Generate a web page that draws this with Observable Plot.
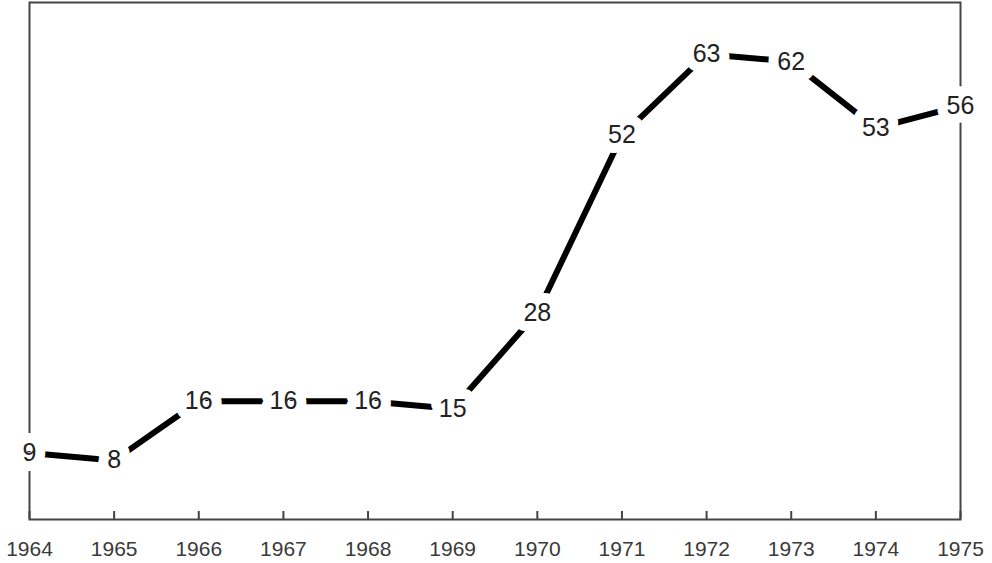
<!DOCTYPE html>
<html>
<head>
<meta charset="utf-8">
<script src="https://cdn.jsdelivr.net/npm/d3@7"></script>
<script src="https://cdn.jsdelivr.net/npm/@observablehq/plot@0.6"></script>
<style>
body { margin: 0; background: #fff; }
</style>
</head>
<body>
<div id="chart"></div>
<script>
const years = [1964, 1965, 1966, 1967, 1968, 1969, 1970, 1971, 1972, 1973, 1974, 1975];
const values = [9, 8, 16, 16, 16, 15, 28, 52, 63, 62, 53, 56];
const data = years.map((year, i) => ({year, value: values[i]}));

const chart = Plot.plot({
  width: 992,
  height: 563,
  marginLeft: 29,
  marginRight: 32,
  marginTop: 2,
  marginBottom: 44,
  style: {fontFamily: "Liberation Sans, Arial, sans-serif", background: "#fff", overflow: "visible"},
  x: {domain: [1964, 1975], ticks: years, tickFormat: d => String(d), label: null},
  y: {domain: [0, 70], label: null, axis: null},
  marks: [
    Plot.frame({stroke: "#444", strokeWidth: 2}),
    Plot.ruleX(years, {x: d => d, y1: 0, y2: 0, insetTop: -8, stroke: "#444", strokeWidth: 2}),
    Plot.axisX({tickSize: 0, tickPadding: 22, fontSize: 21, fill: "#3a3a3a", ticks: years, tickFormat: d => String(d), label: null}),
    Plot.line(data, {x: "year", y: "value", stroke: "#000", strokeWidth: 6}),
    Plot.text(data, {x: "year", y: "value", text: d => String(d.value), fontSize: 25, fill: "#222", stroke: "#fff", strokeWidth: 20, strokeLinejoin: "round"})
  ]
});
document.getElementById("chart").appendChild(chart);
</script>
</body>
</html>
